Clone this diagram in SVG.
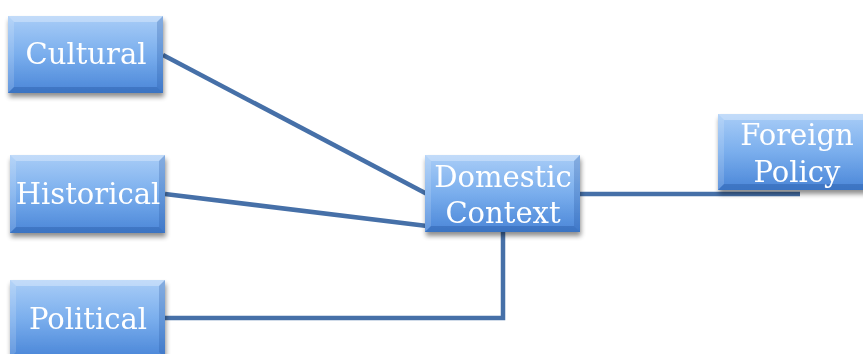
<svg xmlns="http://www.w3.org/2000/svg" width="863" height="354" viewBox="0 0 863 354">
<defs>
<linearGradient id="g" x1="0" y1="0" x2="0" y2="1">
<stop offset="0" stop-color="#a9cdf7"/>
<stop offset="0.5" stop-color="#7aaeed"/>
<stop offset="1" stop-color="#4a86d8"/>
</linearGradient>
<filter id="sh" x="-10%" y="-10%" width="125%" height="135%">
<feGaussianBlur in="SourceAlpha" stdDeviation="2.5"/>
<feOffset dx="1" dy="4"/>
<feComponentTransfer><feFuncA type="linear" slope="0.45"/></feComponentTransfer>
<feMerge><feMergeNode/><feMergeNode in="SourceGraphic"/></feMerge>
</filter>
</defs>
<style>
.box{fill:url(#g);}
.bt{fill:#ffffff;opacity:0.3;}
.bl{fill:#ffffff;opacity:0.15;}
.br{fill:#1f4f9a;opacity:0.25;}
.bb{fill:#1f4f9a;opacity:0.35;}
.lbl{font-family:"DejaVu Serif","Liberation Serif",serif;font-size:29px;fill:#ffffff;text-anchor:middle;}
.ln{stroke:#4670a8;stroke-width:4.5;fill:none;}
</style>
<g id="connectors">
<line class="ln" x1="163" y1="55" x2="427" y2="194"/>
<line class="ln" x1="165" y1="194" x2="427" y2="226"/>
<polyline class="ln" points="165,318 503,318 503,230"/>
<line class="ln" x1="578" y1="194" x2="800" y2="194"/>
</g>
<g id="cultural" filter="url(#sh)">
<rect class="box" x="8" y="16" width="155" height="77"/>
<polygon class="bt" points="8,16 163,16 157,22 14,22"/>
<polygon class="bl" points="8,16 14,22 14,87 8,93"/>
<polygon class="br" points="163,16 163,93 157,87 157,22"/>
<polygon class="bb" points="8,93 163,93 157,87 14,87"/>
<text class="lbl" x="86" y="64">Cultural</text>
</g>
<g id="historical" filter="url(#sh)">
<rect class="box" x="10" y="155" width="155" height="78"/>
<polygon class="bt" points="10,155 165,155 159,161 16,161"/>
<polygon class="bl" points="10,155 16,161 16,227 10,233"/>
<polygon class="br" points="165,155 165,233 159,227 159,161"/>
<polygon class="bb" points="10,233 165,233 159,227 16,227"/>
<text class="lbl" x="88" y="204">Historical</text>
</g>
<g id="political" filter="url(#sh)">
<rect class="box" x="10" y="280" width="155" height="78"/>
<polygon class="bt" points="10,280 165,280 159,286 16,286"/>
<polygon class="bl" points="10,280 16,286 16,352 10,358"/>
<polygon class="br" points="165,280 165,358 159,352 159,286"/>
<text class="lbl" x="88" y="329">Political</text>
</g>
<g id="domestic" filter="url(#sh)">
<rect class="box" x="425" y="155" width="155" height="77"/>
<polygon class="bt" points="425,155 580,155 574,161 431,161"/>
<polygon class="bl" points="425,155 431,161 431,226 425,232"/>
<polygon class="br" points="580,155 580,232 574,226 574,161"/>
<polygon class="bb" points="425,232 580,232 574,226 431,226"/>
<text class="lbl" x="503" y="187">Domestic</text>
<text class="lbl" x="503" y="223">Context</text>
</g>
<g id="foreign" filter="url(#sh)">
<rect class="box" x="718" y="114" width="155" height="76"/>
<polygon class="bt" points="718,114 873,114 867,120 724,120"/>
<polygon class="bl" points="718,114 724,120 724,184 718,190"/>
<polygon class="bb" points="718,190 873,190 867,184 724,184"/>
<text class="lbl" x="797" y="145">Foreign</text>
<text class="lbl" x="797" y="182">Policy</text>
</g>
</svg>
